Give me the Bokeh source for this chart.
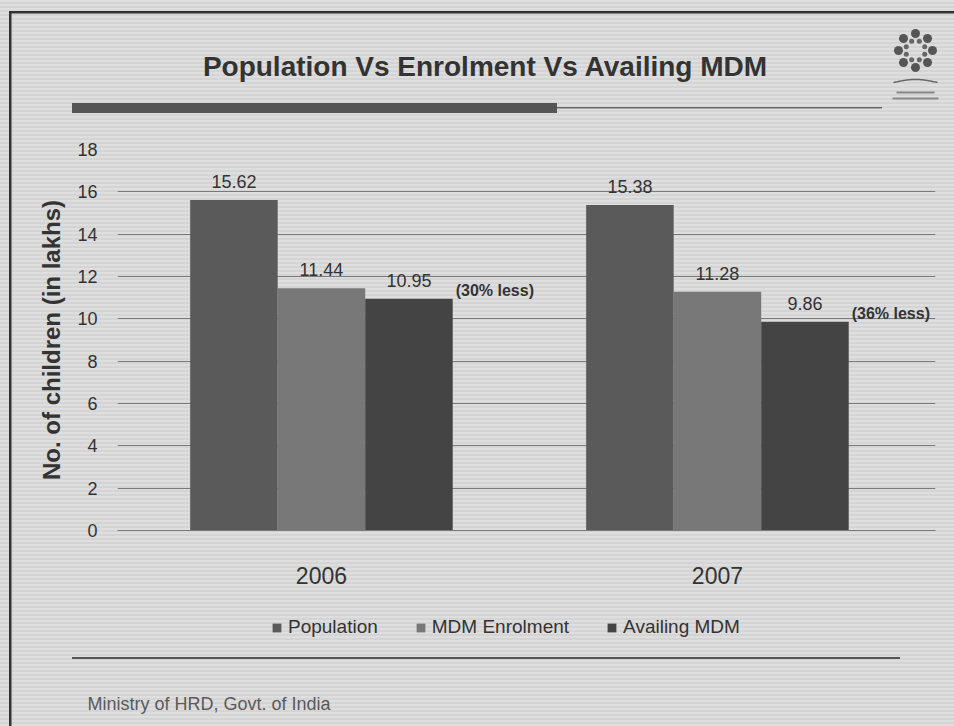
import math
from bokeh.plotting import figure
from bokeh.layouts import column
from bokeh.models import (ColumnDataSource, FixedTicker, Label, LabelSet, Legend, LegendItem,
                          Range1d)
from bokeh.core.properties import value
from bokeh.embed import file_html
from bokeh.resources import INLINE

# ---------------- data ----------------
years = ["2006", "2007"]
series = ["Population", "MDM Enrolment", "Availing MDM"]
population = [15.62, 15.38]
enrolment = [11.44, 11.28]
availing = [10.95, 9.86]
notes = ["(30% less)", "(36% less)"]
y_ticks = [0, 2, 4, 6, 8, 10, 12, 14, 16, 18]

title_text = "Population Vs Enrolment Vs Availing MDM"
y_label = "No. of children (in lakhs)"
footer_text = "Ministry of HRD, Govt. of India"

# ---------------- style ----------------
FONT = "Liberation Sans"
TXT = "#333333"
colors = ["#5a5a5a", "#787878", "#444444"]
W = 954
TOP_H, MAIN_H, BOT_H = 130, 470, 126


def blank_fig(h, y_top):
    f = figure(width=W, height=h, output_backend="svg", toolbar_location=None,
               x_range=Range1d(0, W), y_range=Range1d(y_top + h, y_top),
               x_axis_type=None, y_axis_type=None, min_border=0)
    f.frame_align = False
    f.background_fill_alpha = 0
    f.border_fill_alpha = 0
    f.outline_line_color = None
    f.grid.visible = False
    return f


# ---------------- top: title + emblem ----------------
top = blank_fig(TOP_H, 0)
top.add_layout(Label(x=485, y=66, text=title_text, text_align="center",
                     text_baseline="alphabetic", text_font=FONT,
                     text_font_size="28px", text_font_style="bold", text_color=TXT))
ang = [k * math.pi / 4 for k in range(8)]
top.scatter(x=[915 + 17 * math.cos(a) for a in ang], y=[50 + 17 * math.sin(a) for a in ang],
            size=9, marker="circle", fill_color="#555555", line_color=None)
top.scatter(x=[915 + 10 * math.cos(a + math.pi / 8) for a in ang],
            y=[50 + 10 * math.sin(a + math.pi / 8) for a in ang],
            size=5, marker="circle", fill_color="#666666", line_color=None)
wx = [893 + i for i in range(45)]
top.line(x=wx, y=[82 - 3 * math.sin((v - 893) / 44 * math.pi) for v in wx],
         line_color="#666666", line_width=1.5)
top.segment(x0=[896, 892], y0=[92, 98], x1=[934, 938], y1=[92, 98],
            line_color="#888888", line_width=2)

# ---------------- main chart ----------------
FL, FT, FW, FH = 117, 19, 818, 381
PX_PER_CAT = 396.0
X0 = -0.015
X1 = X0 + FW / PX_PER_CAT

p = figure(frame_width=FW, frame_height=FH, output_backend="svg", toolbar_location=None,
           x_range=Range1d(X0, X1), y_range=Range1d(0, 18),
           min_border_left=FL, min_border_right=W - FL - FW, min_border_top=FT,
           min_border_bottom=MAIN_H - FT - FH)
p.frame_align = False
p.background_fill_alpha = 0
p.border_fill_alpha = 0
p.outline_line_color = None

bw = 0.221
offsets = [-bw, 0.0, bw]
values = [population, enrolment, availing]
for k, (vals, c) in enumerate(zip(values, colors)):
    xs = [i + 0.5 + offsets[k] for i in range(len(years))]
    src = ColumnDataSource(dict(x=xs, top=vals, lab=["%.2f" % v for v in vals]))
    p.vbar(x="x", top="top", width=bw, source=src, fill_color=c, line_color=None)
    p.add_layout(LabelSet(x="x", y="top", text="lab", source=src, text_align="center",
                          text_baseline="alphabetic", y_offset=12, text_font=value(FONT),
                          text_font_size="18px", text_color=TXT))

nsrc = ColumnDataSource(dict(x=[i + 0.5 + bw * 1.5 for i in range(len(years))],
                             y=availing, t=notes))
p.add_layout(LabelSet(x="x", y="y", text="t", source=nsrc, text_align="left",
                      text_baseline="alphabetic", x_offset=3, y_offset=3,
                      text_font=value(FONT), text_font_size="16px",
                      text_font_style="bold", text_color=TXT))

p.yaxis.ticker = FixedTicker(ticks=y_ticks)
p.yaxis.axis_line_color = None
p.yaxis.major_tick_line_color = None
p.yaxis.minor_tick_line_color = None
p.yaxis.major_label_standoff = 14
p.yaxis.major_label_text_font = FONT
p.yaxis.major_label_text_font_size = "18px"
p.yaxis.major_label_text_color = TXT
p.yaxis.axis_label = y_label
p.yaxis.axis_label_standoff = 9
p.yaxis.axis_label_text_font = FONT
p.yaxis.axis_label_text_font_size = "24px"
p.yaxis.axis_label_text_font_style = "bold"
p.yaxis.axis_label_text_color = TXT

p.xaxis.ticker = FixedTicker(ticks=[i + 0.5 for i in range(len(years))])
p.xaxis.major_label_overrides = {i + 0.5: y for i, y in enumerate(years)}
p.xaxis.axis_line_color = "#7a7a7a"
p.xaxis.major_tick_line_color = None
p.xaxis.minor_tick_line_color = None
p.xaxis.major_label_standoff = 30
p.xaxis.major_label_text_font = FONT
p.xaxis.major_label_text_font_size = "23px"
p.xaxis.major_label_text_color = TXT

p.xgrid.grid_line_color = None
p.ygrid.grid_line_color = "#7a7a7a"
p.ygrid.grid_line_width = 1

# ---------------- bottom: legend + footer ----------------
bot = blank_fig(BOT_H, TOP_H + MAIN_H)
# legend swatches (zero-size proxies outside the visible range)
proxies = [bot.vbar(x=[0], top=[0], bottom=[0], width=0, fill_color=c, line_color=None)
           for c in colors]
items = [LegendItem(label=s, renderers=[r]) for s, r in zip(series, proxies)]
leg = Legend(items=items, orientation="horizontal", location=(271, 88),
             glyph_width=11, glyph_height=11, label_standoff=6, spacing=37,
             padding=0, margin=0, border_line_color=None, background_fill_alpha=0,
             label_text_font=FONT, label_text_font_size="19px", label_text_color=TXT)
bot.add_layout(leg)
bot.add_layout(Label(x=87, y=703, text=footer_text, text_align="left",
                     text_baseline="middle", text_font=FONT,
                     text_font_size="18px", text_color="#5a5a5a"))

# ---------------- page decoration ----------------
layers = [
    ("linear-gradient(#555555,#555555)", "485px 10px", "72px 103px", "no-repeat"),
    ("linear-gradient(#666666,#666666)", "325px 1.5px", "557px 107px", "no-repeat"),
    ("linear-gradient(#555555,#555555)", "828px 2px", "72px 657px", "no-repeat"),
    ("linear-gradient(#333333,#333333)", "2.5px 726px", "9px 11px", "no-repeat"),
    ("linear-gradient(#333333,#333333)", "954px 2.5px", "9px 11px", "no-repeat"),
    ("linear-gradient(#dedede 50%, #d4d4d4 50%)", "100% 4px", "0px 0px", "repeat"),
]
layout = column(top, p, bot, spacing=0)
layout.styles = {
    "background-color": "#d9d9d9",
    "background-image": ", ".join(l[0] for l in layers),
    "background-size": ", ".join(l[1] for l in layers),
    "background-position": ", ".join(l[2] for l in layers),
    "background-repeat": ", ".join(l[3] for l in layers),
}

open("out.html", "w").write(file_html(layout, INLINE))
